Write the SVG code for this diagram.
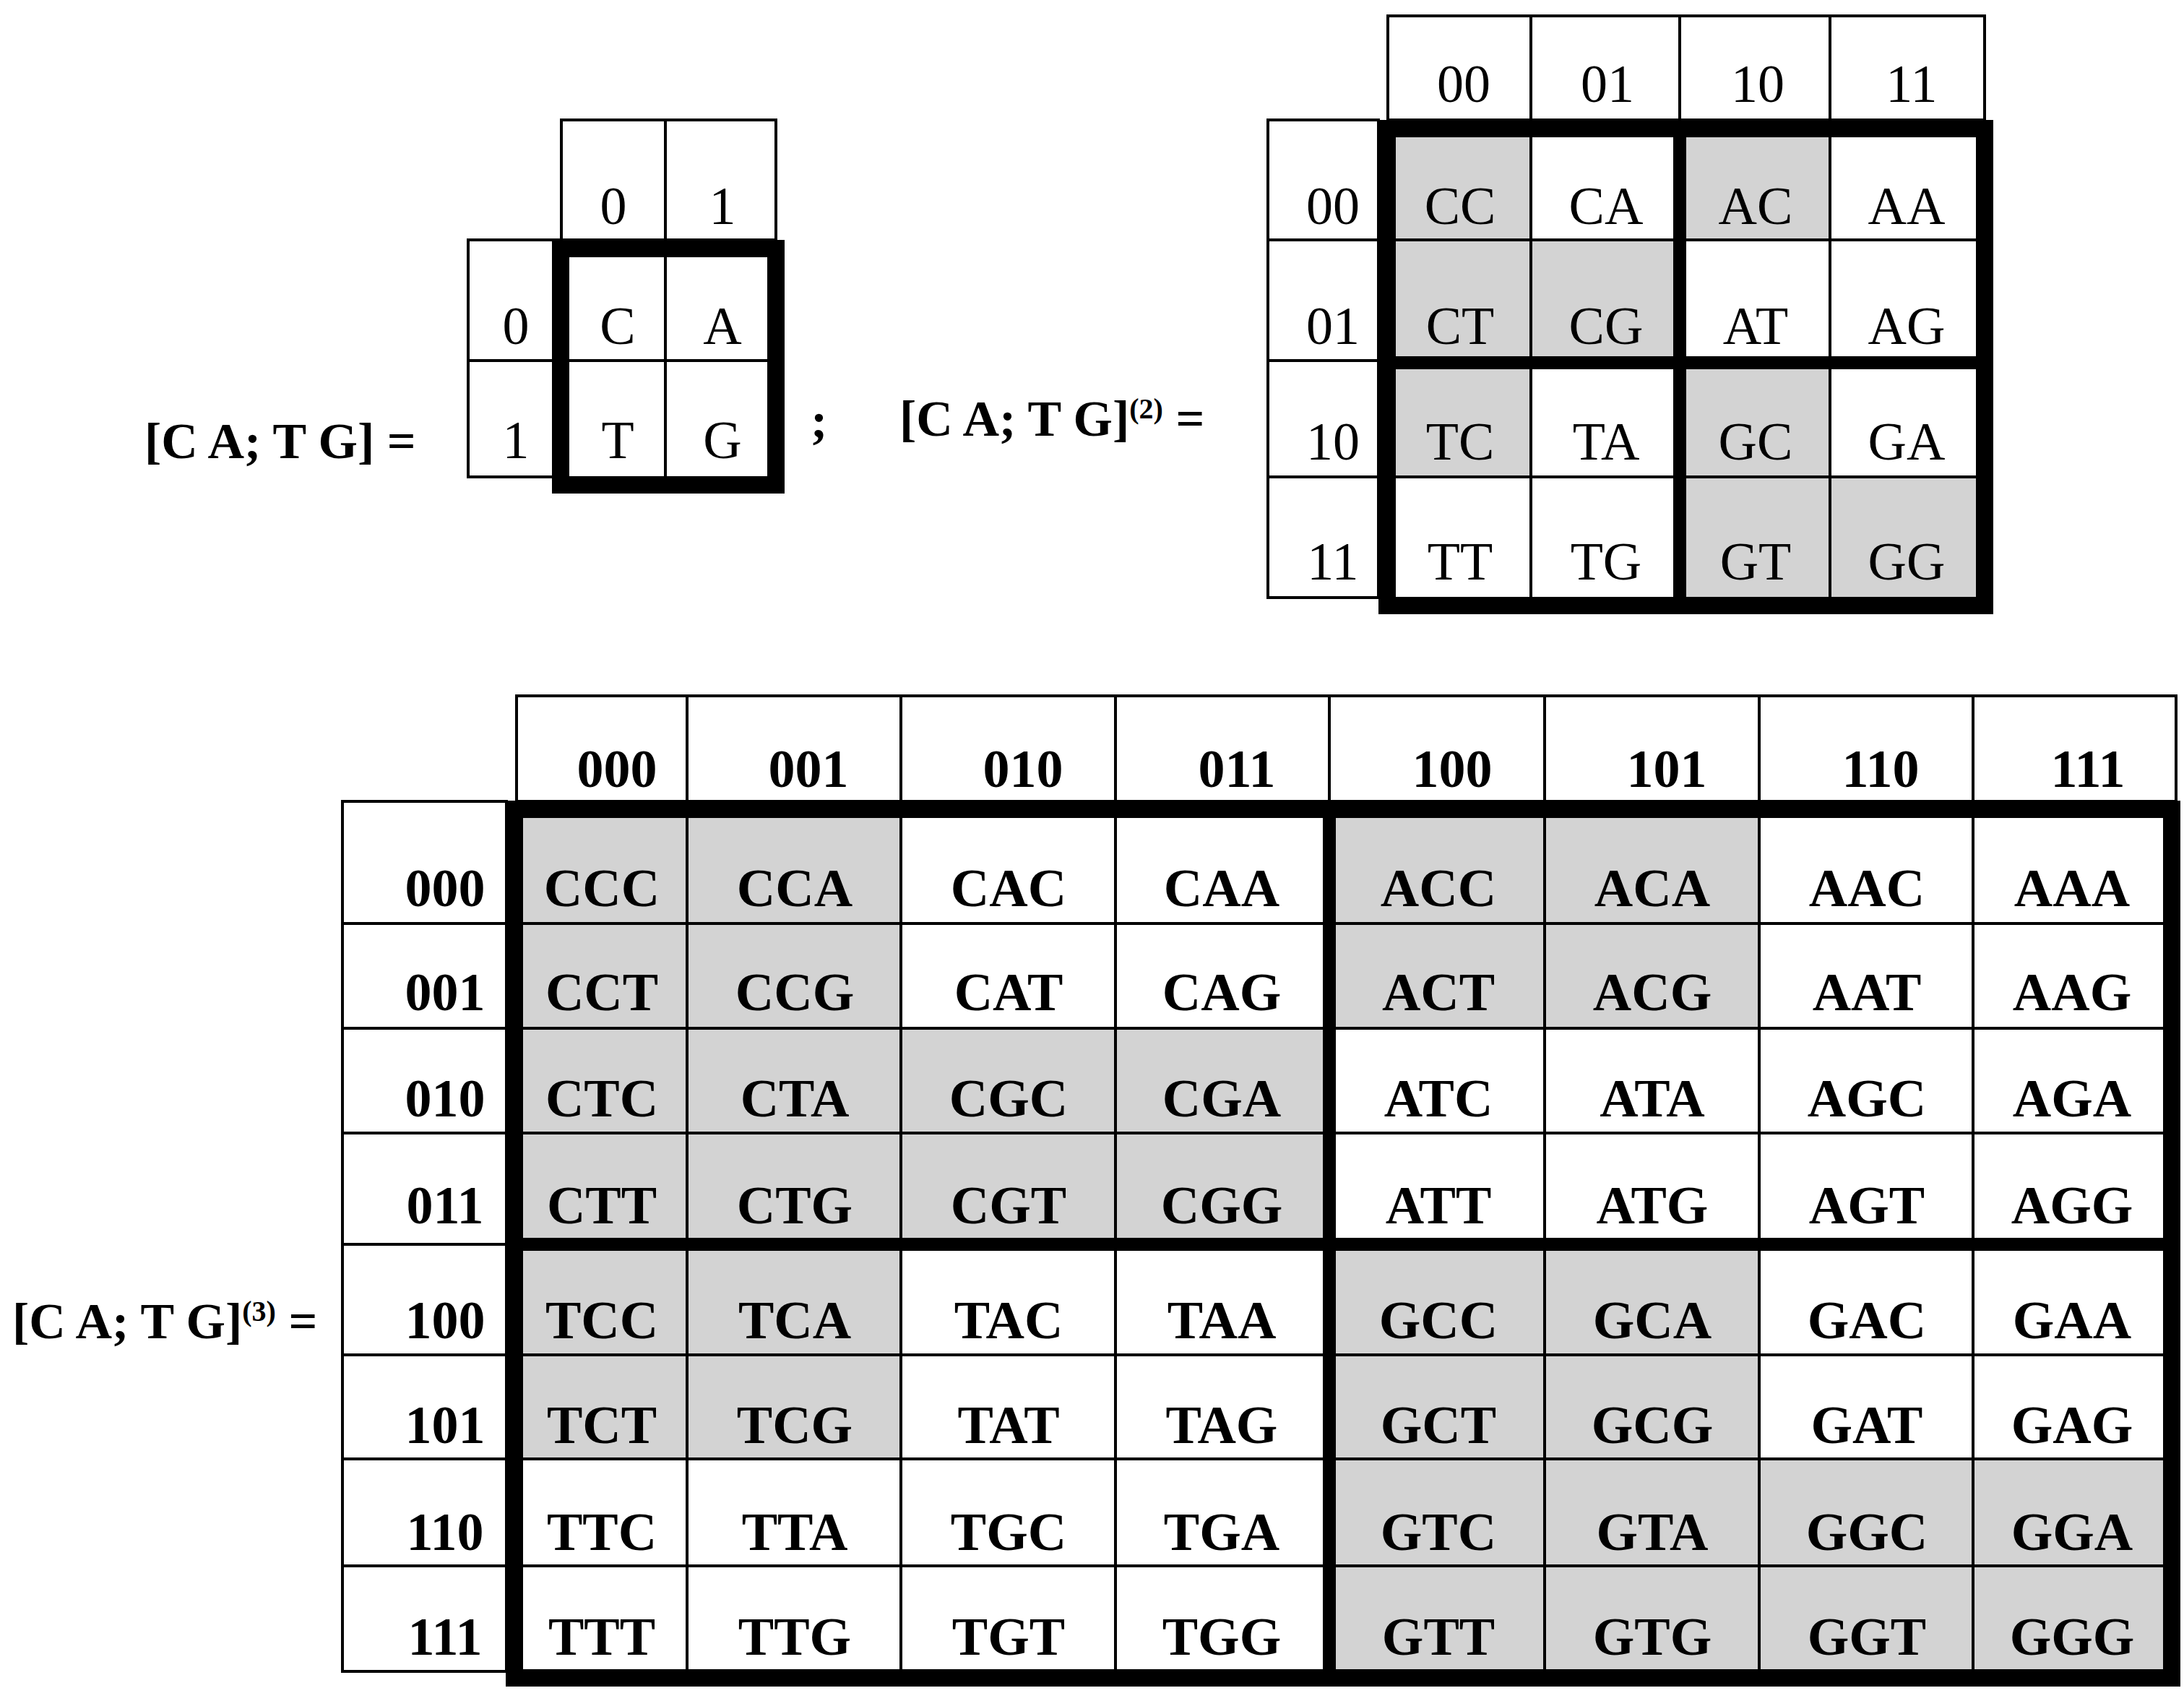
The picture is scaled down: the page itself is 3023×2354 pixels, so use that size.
<svg xmlns="http://www.w3.org/2000/svg" width="3023" height="2354" viewBox="0 0 3023 2354">
<style>
.t{font-family:"Liberation Serif",serif;font-size:74px;text-anchor:middle;fill:#000}
.b{font-weight:bold}
.lbl{font-family:"Liberation Serif",serif;font-size:70px;font-weight:bold;fill:#000}
.sup{font-size:40px}
.thin{fill:none;stroke:#000;stroke-width:4}
.thick{fill:none;stroke:#000;stroke-width:24}
.mid{stroke:#000;stroke-width:18}
.g{fill:#d3d3d3}
</style>
<rect width="3023" height="2354" fill="#fff"/>
<g id="map1">
<rect class="thin" x="777" y="166" width="297" height="166"/>
<line class="thin" x1="921" y1="166" x2="921" y2="332"/>
<rect class="thin" x="648" y="332" width="129" height="328"/>
<line class="thin" x1="648" y1="499" x2="1074" y2="499"/>
<line class="thin" x1="921" y1="332" x2="921" y2="683"/>
<rect class="thick" x="776" y="344" width="298" height="327"/>
<text class="t" x="849" y="310">0</text><text class="t" x="1000" y="310">1</text>
<text class="t" x="714" y="476">0</text><text class="t" x="714" y="634">1</text>
<text class="t" x="855" y="476">C</text><text class="t" x="1000" y="476">A</text>
<text class="t" x="855" y="634">T</text><text class="t" x="1000" y="634">G</text>
<text class="lbl" x="200" y="634">[C A; T G] =</text>
<text class="lbl" x="1122" y="605">;</text>
</g>
<g id="map2">
<rect class="g" x="1920" y="178" width="199" height="154"/>
<rect class="g" x="2325" y="178" width="208" height="154"/>
<rect class="g" x="1920" y="332" width="405" height="170"/>
<rect class="g" x="1920" y="502" width="199" height="158"/>
<rect class="g" x="2325" y="502" width="208" height="158"/>
<rect class="g" x="2325" y="660" width="422" height="178"/>
<rect class="thin" x="1921" y="22" width="826" height="144"/>
<line class="thin" x1="2119" y1="22" x2="2119" y2="838"/>
<line class="thin" x1="2533" y1="22" x2="2533" y2="838"/>
<line class="thin" x1="2325" y1="22" x2="2325" y2="166"/>
<rect class="thin" x="1755" y="166" width="153" height="661"/>
<line class="thin" x1="1755" y1="332" x2="2747" y2="332"/>
<line class="thin" x1="1755" y1="499" x2="1920" y2="499"/>
<line class="thin" x1="1755" y1="660" x2="2747" y2="660"/>
<line class="mid" x1="2325" y1="178" x2="2325" y2="838"/>
<line class="mid" x1="1920" y1="502" x2="2747" y2="502"/>
<rect class="thick" x="1920" y="178" width="827" height="660"/>
<text class="t" x="2026" y="141">00</text><text class="t" x="2225" y="141">01</text><text class="t" x="2433" y="141">10</text><text class="t" x="2646" y="141">11</text>
<text class="t" x="1845" y="310">00</text><text class="t" x="1845" y="476">01</text><text class="t" x="1845" y="636">10</text><text class="t" x="1845" y="802">11</text>
<text class="t" x="2021" y="310">CC</text><text class="t" x="2223" y="310">CA</text><text class="t" x="2430" y="310">AC</text><text class="t" x="2639" y="310">AA</text>
<text class="t" x="2021" y="476">CT</text><text class="t" x="2223" y="476">CG</text><text class="t" x="2430" y="476">AT</text><text class="t" x="2639" y="476">AG</text>
<text class="t" x="2021" y="636">TC</text><text class="t" x="2223" y="636">TA</text><text class="t" x="2430" y="636">GC</text><text class="t" x="2639" y="636">GA</text>
<text class="t" x="2021" y="802">TT</text><text class="t" x="2223" y="802">TG</text><text class="t" x="2430" y="802">GT</text><text class="t" x="2639" y="802">GG</text>
<text class="lbl" x="1245" y="603">[C A; T G]<tspan class="sup" dy="-24">(2)</tspan><tspan dy="24"> =</tspan></text>
</g>
<g id="map3">
<g class="g">
<rect x="712" y="1120" width="535" height="303"/><rect x="1840" y="1120" width="595" height="303"/>
<rect x="712" y="1423" width="1128" height="299"/>
<rect x="712" y="1722" width="535" height="297"/><rect x="1840" y="1722" width="595" height="297"/>
<rect x="1840" y="2019" width="1178" height="303"/>
</g>
<rect class="thin" x="715" y="963" width="2297" height="146"/>
<rect class="thin" x="474" y="1109" width="227" height="1204"/>
<g class="thin">
<line x1="951" y1="963" x2="951" y2="2322"/><line x1="1247" y1="963" x2="1247" y2="2322"/><line x1="1544" y1="963" x2="1544" y2="2322"/>
<line x1="1840" y1="963" x2="1840" y2="1109"/><line x1="2138" y1="963" x2="2138" y2="2322"/><line x1="2435" y1="963" x2="2435" y2="2322"/><line x1="2731" y1="963" x2="2731" y2="2322"/>
<line x1="474" y1="1278" x2="3012" y2="1278"/><line x1="474" y1="1423" x2="3012" y2="1423"/><line x1="474" y1="1568" x2="3012" y2="1568"/>
<line x1="474" y1="1722" x2="712" y2="1722"/>
<line x1="474" y1="1875" x2="3012" y2="1875"/><line x1="474" y1="2019" x2="3012" y2="2019"/><line x1="474" y1="2167" x2="3012" y2="2167"/>
</g>
<line class="mid" x1="1840" y1="1120" x2="1840" y2="2322"/>
<line class="mid" x1="712" y1="1722" x2="3018" y2="1722"/>
<rect class="thick" x="712" y="1120" width="2294" height="1202"/>
<g class="t b">
<text x="854" y="1089">000</text><text x="1119" y="1089">001</text><text x="1416" y="1089">010</text><text x="1712" y="1089">011</text><text x="2010" y="1089">100</text><text x="2307" y="1089">101</text><text x="2603" y="1089">110</text><text x="2890" y="1089">111</text>
<text x="616" y="1254">000</text><text x="616" y="1398">001</text><text x="616" y="1545">010</text><text x="616" y="1693">011</text><text x="616" y="1852">100</text><text x="616" y="1997">101</text><text x="616" y="2145">110</text><text x="616" y="2290">111</text>
</g>
<g class="t b">
<text x="833" y="1254">CCC</text><text x="1100" y="1254">CCA</text><text x="1396" y="1254">CAC</text><text x="1691" y="1254">CAA</text><text x="1991" y="1254">ACC</text><text x="2287" y="1254">ACA</text><text x="2584" y="1254">AAC</text><text x="2868" y="1254">AAA</text>
<text x="833" y="1398">CCT</text><text x="1100" y="1398">CCG</text><text x="1396" y="1398">CAT</text><text x="1691" y="1398">CAG</text><text x="1991" y="1398">ACT</text><text x="2287" y="1398">ACG</text><text x="2584" y="1398">AAT</text><text x="2868" y="1398">AAG</text>
<text x="833" y="1545">CTC</text><text x="1100" y="1545">CTA</text><text x="1396" y="1545">CGC</text><text x="1691" y="1545">CGA</text><text x="1991" y="1545">ATC</text><text x="2287" y="1545">ATA</text><text x="2584" y="1545">AGC</text><text x="2868" y="1545">AGA</text>
<text x="833" y="1693">CTT</text><text x="1100" y="1693">CTG</text><text x="1396" y="1693">CGT</text><text x="1691" y="1693">CGG</text><text x="1991" y="1693">ATT</text><text x="2287" y="1693">ATG</text><text x="2584" y="1693">AGT</text><text x="2868" y="1693">AGG</text>
<text x="833" y="1852">TCC</text><text x="1100" y="1852">TCA</text><text x="1396" y="1852">TAC</text><text x="1691" y="1852">TAA</text><text x="1991" y="1852">GCC</text><text x="2287" y="1852">GCA</text><text x="2584" y="1852">GAC</text><text x="2868" y="1852">GAA</text>
<text x="833" y="1997">TCT</text><text x="1100" y="1997">TCG</text><text x="1396" y="1997">TAT</text><text x="1691" y="1997">TAG</text><text x="1991" y="1997">GCT</text><text x="2287" y="1997">GCG</text><text x="2584" y="1997">GAT</text><text x="2868" y="1997">GAG</text>
<text x="833" y="2145">TTC</text><text x="1100" y="2145">TTA</text><text x="1396" y="2145">TGC</text><text x="1691" y="2145">TGA</text><text x="1991" y="2145">GTC</text><text x="2287" y="2145">GTA</text><text x="2584" y="2145">GGC</text><text x="2868" y="2145">GGA</text>
<text x="833" y="2290">TTT</text><text x="1100" y="2290">TTG</text><text x="1396" y="2290">TGT</text><text x="1691" y="2290">TGG</text><text x="1991" y="2290">GTT</text><text x="2287" y="2290">GTG</text><text x="2584" y="2290">GGT</text><text x="2868" y="2290">GGG</text>
</g>
<text class="lbl" x="17" y="1852">[C A; T G]<tspan class="sup" dy="-24">(3)</tspan><tspan dy="24"> =</tspan></text>
</g>
</svg>
